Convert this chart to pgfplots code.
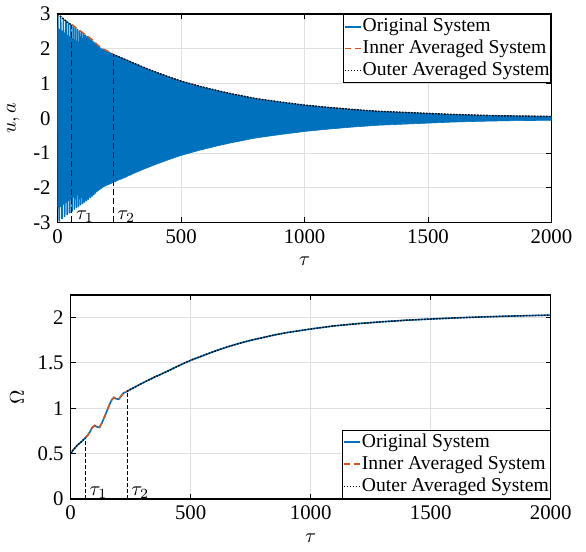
\documentclass[border=0pt]{standalone}
\usepackage{pgfplots}
\pgfplotsset{compat=1.18}
\usepackage{fontspec}
\setmainfont{Liberation Serif}
\definecolor{mblue}{RGB}{0,114,189}
\definecolor{morange}{RGB}{217,83,25}
\definecolor{mgrid}{RGB}{223,223,223}
\newcommand{\pfont}{\fontsize{10.4pt}{12.5pt}\selectfont}
\newcommand{\lfont}{\fontsize{9.8pt}{11.8pt}\selectfont}
\pgfplotsset{
  mystyle/.style={
    scale only axis,
    xmin=0, xmax=2000,
    xtick={0,500,1000,1500,2000},
    /pgf/number format/assume math mode=true,
    /pgf/number format/1000 sep={},
    scaled ticks=false,
    tick label style={font=\pfont},
    label style={font=\pfont},
    tick align=inside,
    major tick length=2.5pt,
    tick style={black, line width=0.5pt},
    axis line style={line width=0.6pt},
    grid=major,
    major grid style={mgrid, line width=0.5pt},
    legend cell align=left,
    legend style={draw=black, line width=0.5pt, fill=white, font=\lfont,
      inner xsep=0.3pt, inner ysep=0.6pt, row sep=0pt, column sep=0pt,
      nodes={inner xsep=0.4pt, inner ysep=0pt, text height=8pt, text depth=3pt}},
    legend image code/.code={\draw[#1] (0pt,0pt) -- (8.3pt,0pt);},
  }
}
\begin{document}
\begin{tikzpicture}
\useasboundingbox (0,0) rectangle (293pt,276pt);
% ---------------- top axis ----------------
\begin{axis}[mystyle, at={(28.85pt,164.75pt)}, anchor=south west,
  width=246.9pt, height=104.25pt,
  ymin=-3, ymax=3, ytick={-3,-2,-1,0,1,2,3},
  xlabel={$\tau$}, ylabel={$u, a$},
  legend style={at={(1,1)}, anchor=north east}]
% dense oscillation: band between the envelopes
\addplot[fill=mblue, draw=mblue, line width=0.3pt, forget plot] coordinates {
(0,2.60) (57,2.30) (120,2.05) (180,1.75) (224,1.62)
(300,1.61) (350,1.46) (400,1.32) (450,1.19) (500,1.07) (575,0.92) (650,0.79)
(700,0.71) (800,0.57) (900,0.47) (1000,0.38) (1100,0.31) (1200,0.25) (1300,0.20)
(1400,0.17) (1500,0.14) (1600,0.11) (1700,0.09) (1800,0.075) (1900,0.065) (2000,0.06)
(2000,-0.06) (1900,-0.065) (1800,-0.075) (1700,-0.09) (1600,-0.11) (1500,-0.14)
(1400,-0.17) (1300,-0.20) (1200,-0.25) (1100,-0.31) (1000,-0.38) (900,-0.47)
(800,-0.57) (700,-0.71) (650,-0.79) (575,-0.92) (500,-1.07) (450,-1.19)
(400,-1.32) (350,-1.46) (300,-1.61)
(224,-1.62) (180,-1.75) (120,-2.05) (57,-2.30) (0,-2.60)} -- cycle;
% original system, early oscillation
\addplot[mblue, line width=0.8pt, line join=round] coordinates {
(0,3.00) (6.1,-2.96) (12.0,2.93) (17.6,-2.89) (23.0,2.86) (28.3,-2.83)
(33.5,2.80) (38.7,-2.77) (43.7,2.74) (48.7,-2.72) (53.5,2.69) (58.3,-2.67)
(63.0,2.64) (67.6,-2.62) (72.0,2.60) (76.4,-2.57) (80.7,2.55) (84.9,-2.53)
(89.0,2.51) (93.0,-2.49) (97.0,2.47) (100.9,-2.45) (104.8,2.43) (108.7,-2.41)
(112.6,2.39) (116.6,-2.37) (120.6,2.35) (124.5,-2.33) (128.3,2.30) (132.0,-2.28)
(135.6,2.26) (139.2,-2.24) (142.7,2.22) (146.1,-2.20) (149.4,2.17) (152.6,-2.15)
(155.8,2.13) (158.9,-2.11) (161.9,2.09) (164.9,-2.07) (167.9,2.06) (170.8,-2.04)
(173.7,2.02) (176.6,-2.01) (179.4,1.99) (182.2,-1.98) (185.0,1.97) (187.8,-1.96)
(190.6,1.95) (193.5,-1.94) (196.3,1.93) (199.2,-1.92) (202.0,1.91) (204.8,-1.90)
(207.6,1.90) (210.4,-1.89) (213.2,1.88) (215.9,-1.87) (218.6,1.86) (221.3,-1.85)
(224.0,1.84) (226.7,-1.83) (229.3,1.82) (232.0,-1.82) (234.6,1.81) (237.3,-1.80)
(239.9,1.79) (242.5,-1.78) (245.1,1.78) (247.7,-1.77) (250.4,1.76) (253.0,-1.75)
(255.6,1.74) (258.2,-1.74) (260.8,1.73) (263.4,-1.72) (265.9,1.71) (268.5,-1.71)
(271.0,1.70) (273.6,-1.69) (276.1,1.68) (278.6,-1.67) (281.1,1.67) (283.6,-1.66)
(286.1,1.65) (288.6,-1.64) (291.1,1.64) (293.6,-1.63) (296.1,1.62) (298.6,-1.61)
(301.1,1.61)};
\addlegendentry{Original System}
% inner averaged system
\addplot[morange, line width=0.7pt, dash pattern=on 3pt off 2pt] coordinates {
(57,2.70) (80,2.57) (100,2.47) (120,2.37) (140,2.26) (160,2.12) (180,2.01) (200,1.94) (224,1.86)};
\addlegendentry{Inner Averaged System}
% outer averaged system
\addplot[black, line width=0.7pt, dash pattern=on 0.75pt off 0.75pt] coordinates {
(0,3.00) (20,2.88) (40,2.76) (57,2.68)};
\addlegendentry{Outer Averaged System}
\addplot[black, line width=0.7pt, dash pattern=on 0.75pt off 0.75pt, forget plot] coordinates {
(224,1.84) (250,1.76) (300,1.61) (350,1.46) (400,1.32) (450,1.19) (500,1.07)
(575,0.92) (650,0.79) (700,0.71) (800,0.57) (900,0.47) (1000,0.38) (1100,0.31)
(1200,0.25) (1300,0.20) (1400,0.17) (1500,0.14) (1600,0.11) (1700,0.09)
(1800,0.07) (1900,0.06) (2000,0.05)};
% tau markers
\addplot[black, line width=0.5pt, dash pattern=on 3pt off 1.6pt, forget plot] coordinates {(57,-3) (57,2.68)};
\addplot[black, line width=0.5pt, dash pattern=on 3pt off 1.6pt, forget plot] coordinates {(224,-3) (224,1.84)};
\node[anchor=south west, inner xsep=2pt, inner ysep=0pt, font=\pfont] at (axis cs:57,-3) {$\tau_1$};
\node[anchor=south west, inner xsep=2pt, inner ysep=0pt, font=\pfont] at (axis cs:224,-3) {$\tau_2$};
\end{axis}
% ---------------- bottom axis ----------------
\begin{axis}[mystyle, at={(35.35pt,26.5pt)}, anchor=south west,
  width=240pt, height=102pt,
  ymin=0, ymax=2.25, ytick={0,0.5,1,1.5,2},
  xlabel={$\tau$}, ylabel={$\Omega$},
  legend style={at={(1,0)}, anchor=south east}]
\addplot[mblue, line width=0.8pt] coordinates {
(0,0.50) (10,0.54) (20,0.57) (30,0.60) (40,0.62) (50,0.645) (60,0.67) (70,0.70)
(80,0.74) (90,0.79) (100,0.81) (110,0.795) (120,0.79) (130,0.84) (140,0.90)
(150,0.965) (160,1.03) (170,1.09) (180,1.12) (190,1.105) (200,1.10) (210,1.135)
(220,1.17) (230,1.18) (240,1.195) (250,1.21) (275,1.245) (300,1.28) (350,1.345)
(400,1.405) (450,1.47) (500,1.53) (550,1.58) (600,1.63) (650,1.675) (700,1.715)
(750,1.75) (800,1.78) (850,1.81) (900,1.835) (950,1.855) (1000,1.875)
(1100,1.91) (1200,1.935) (1300,1.955) (1400,1.972) (1500,1.985) (1600,1.997)
(1700,2.007) (1800,2.015) (1900,2.022) (2000,2.028)};
\addlegendentry{Original System}
\addplot[morange, line width=0.8pt, dash pattern=on 3pt off 2pt] coordinates {
(61,0.675) (70,0.70) (80,0.74) (90,0.79) (100,0.81) (110,0.795) (120,0.79)
(130,0.84) (140,0.90) (150,0.965) (160,1.03) (170,1.09) (180,1.12) (190,1.105)
(200,1.10) (210,1.135) (220,1.17) (230,1.18) (235,1.187)};
\addlegendentry{Inner Averaged System}
\addplot[black, line width=0.7pt, dash pattern=on 0.75pt off 0.75pt] coordinates {
(0,0.50) (10,0.54) (20,0.57) (30,0.60) (40,0.62) (50,0.645) (61,0.675)};
\addlegendentry{Outer Averaged System}
\addplot[black, line width=0.7pt, dash pattern=on 0.75pt off 0.75pt, forget plot] coordinates {
(235,1.187) (240,1.195) (250,1.21) (275,1.245) (300,1.28) (350,1.345)
(400,1.405) (450,1.47) (500,1.53) (550,1.58) (600,1.63) (650,1.675) (700,1.715)
(750,1.75) (800,1.78) (850,1.81) (900,1.835) (950,1.855) (1000,1.875)
(1100,1.91) (1200,1.935) (1300,1.955) (1400,1.972) (1500,1.985) (1600,1.997)
(1700,2.007) (1800,2.015) (1900,2.022) (2000,2.028)};
\addplot[black, line width=0.5pt, dash pattern=on 2pt off 1pt, forget plot] coordinates {(61,0) (61,0.675)};
\addplot[black, line width=0.5pt, dash pattern=on 2pt off 1pt, forget plot] coordinates {(235,0) (235,1.187)};
\node[anchor=south west, inner xsep=2pt, inner ysep=0pt, font=\pfont] at (axis cs:61,0) {$\tau_1$};
\node[anchor=south west, inner xsep=2pt, inner ysep=0pt, font=\pfont] at (axis cs:235,0) {$\tau_2$};
\end{axis}
\end{tikzpicture}
\end{document}
